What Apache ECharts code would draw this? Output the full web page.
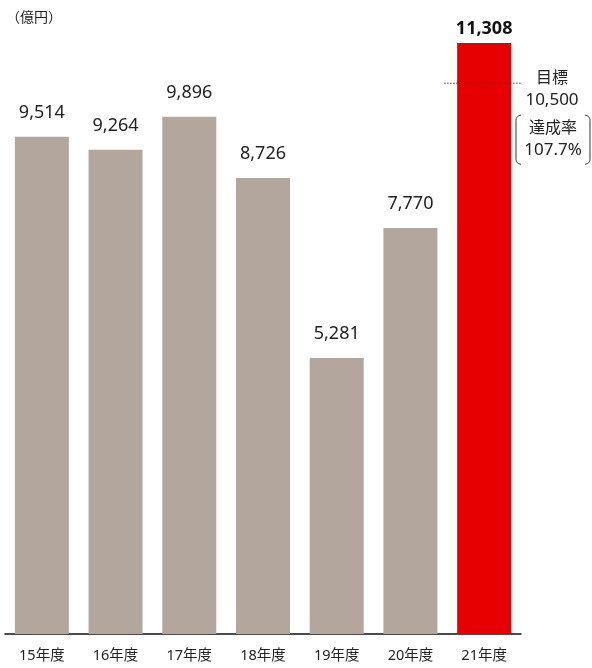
<!DOCTYPE html>
<html><head><meta charset="utf-8">
<script src="https://cdn.jsdelivr.net/npm/echarts@6/dist/echarts.min.js"></script>
<style>html,body{margin:0;padding:0;background:#fff}#c{width:592px;height:668px}</style>
</head><body><div id="c"></div>
<script>
const categories = ['15年度','16年度','17年度','18年度','19年度','20年度','21年度'];
const values = [9514, 9264, 9896, 8726, 5281, 7770, 11308];
const target = 10500;
const targetLabel = '目標';
const targetText = '10,500';
const rateLabel = '達成率';
const rateText = '107.7%';
const unitText = '（億円）';

const FONT = '"Noto Sans","Noto Sans CJK JP",sans-serif';
const chart = echarts.init(document.getElementById('c'));
const fmt = v => v.toLocaleString('en-US');
const last = values.length - 1;

chart.setOption({
  animation: false,
  grid: {left: 5, right: 71, top: 43, bottom: 34},
  xAxis: {
    type: 'category', data: categories,
    axisLine: {lineStyle: {color: '#111', width: 1.5}},
    axisTick: {show: false},
    axisLabel: {color: '#222', fontSize: 14.5, fontFamily: FONT, margin: 15}
  },
  yAxis: {type: 'value', min: 0, max: values[last], show: false, splitLine: {show: false}},
  series: [{
    type: 'bar', barWidth: 54,
    data: values.map((v, i) => i === last ? {
      value: v, itemStyle: {color: '#e60000'},
      label: {fontWeight: 'bold', fontSize: 18, distance: 5, color: '#111'}
    } : {value: v, itemStyle: {color: '#b3a69c'}}),
    label: {show: true, position: 'top', distance: 15, fontSize: 18, color: '#222', fontFamily: FONT,
      formatter: p => fmt(p.value)}
  }]
});

const ty = chart.convertToPixel({yAxisIndex: 0}, target);
const tx = chart.convertToPixel({xAxisIndex: 0}, categories[last]);
function bracket(x0, dir, yTop, yBot, r) {
  const pts = [];
  const steps = 8;
  for (let k = 0; k <= steps; k++) {
    const a = Math.PI / 2 * k / steps;
    pts.push([x0 + dir * (r - r * Math.sin(a)), yTop + r - r * Math.cos(a)]);
  }
  for (let k = 0; k <= steps; k++) {
    const a = Math.PI / 2 * k / steps;
    pts.push([x0 + dir * (r - r * Math.cos(a)), yBot - r + r * Math.sin(a)]);
  }
  return pts;
}
chart.setOption({
  graphic: [
    {type: 'text', x: 6, y: 18, style: {text: unitText, fontSize: 14, fill: '#222', fontFamily: FONT, verticalAlign: 'middle'}},
    {type: 'line', shape: {x1: tx - 40, y1: ty - 2, x2: tx + 37, y2: ty - 2},
      style: {stroke: '#444', lineWidth: 1, lineDash: [1.5, 1.5]}, z: 10},
    {type: 'text', x: 552, y: ty - 7, style: {text: targetLabel, fontSize: 16, fill: '#222', fontFamily: FONT, align: 'center', verticalAlign: 'middle'}},
    {type: 'text', x: 552, y: ty + 15, style: {text: targetText, fontSize: 17, fill: '#222', fontFamily: FONT, align: 'center', verticalAlign: 'middle'}},
    {type: 'text', x: 553, y: ty + 43, style: {text: rateLabel, fontSize: 16, fill: '#222', fontFamily: FONT, align: 'center', verticalAlign: 'middle'}},
    {type: 'text', x: 553, y: ty + 65, style: {text: rateText, fontSize: 17, fill: '#222', fontFamily: FONT, align: 'center', verticalAlign: 'middle'}},
    {type: 'polyline', shape: {points: bracket(516, 1, ty + 30, ty + 79, 5)}, style: {stroke: '#333', lineWidth: 1, fill: null}},
    {type: 'polyline', shape: {points: bracket(590, -1, ty + 30, ty + 79, 5)}, style: {stroke: '#333', lineWidth: 1, fill: null}}
  ]
});
</script></body></html>
